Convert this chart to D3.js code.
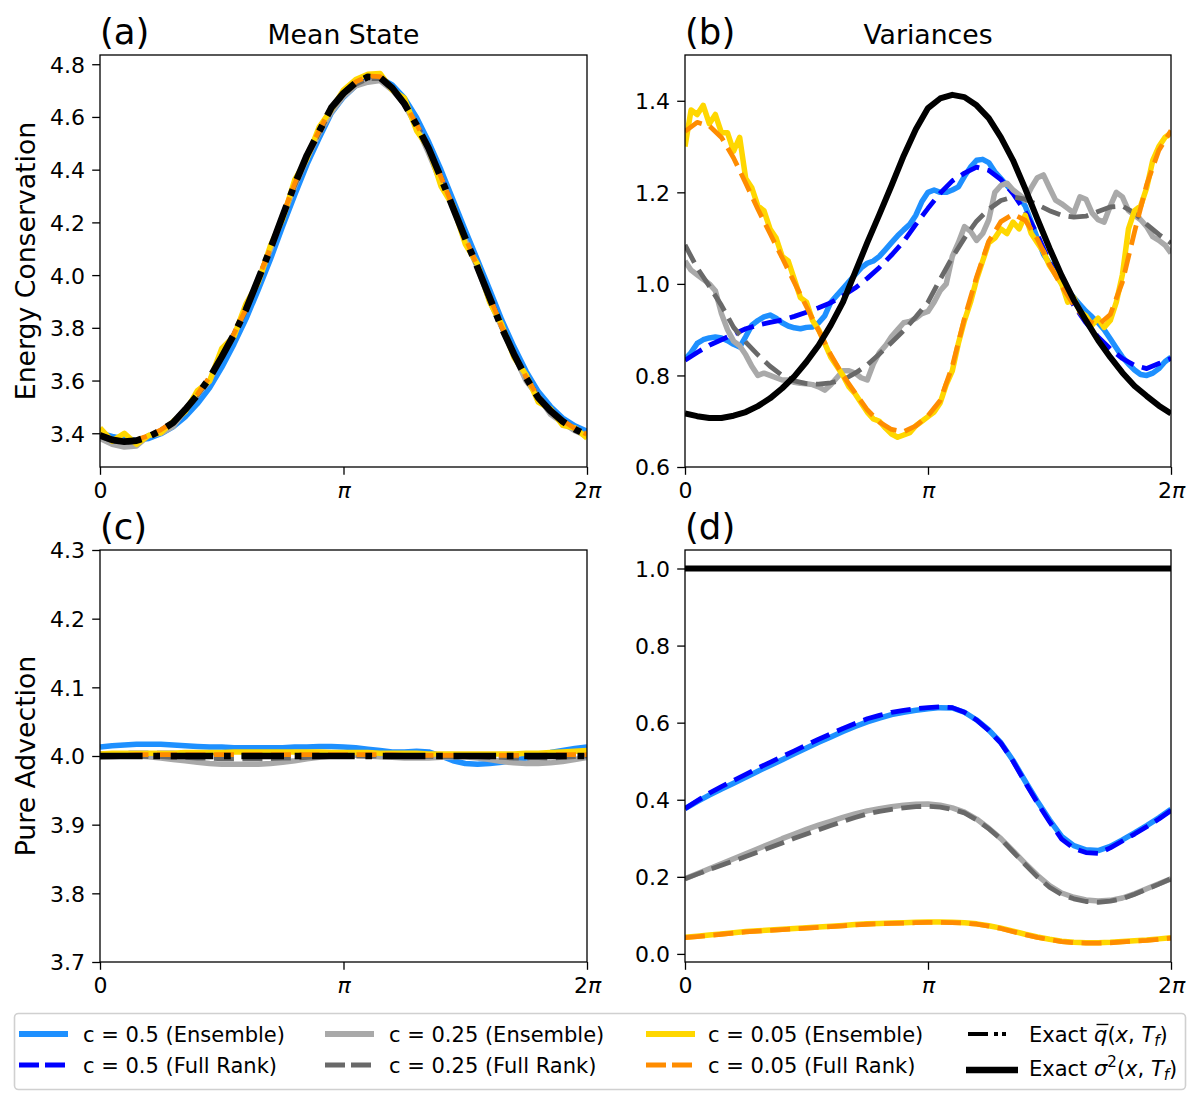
<!DOCTYPE html>
<html>
<head>
<meta charset="utf-8">
<script src="https://cdn.jsdelivr.net/npm/d3@7"></script>
<style>
  body { margin: 0; background: #fff; }
  svg { display: block; }
</style>
</head>
<body>
<svg id="fig" width="1200" height="1104"></svg>
<script>
// x grids, in units of pi
const xPi41 = [0,0.05,0.1,0.15,0.2,0.25,0.3,0.35,0.4,0.45,0.5,0.55,0.6,0.65,0.7,0.75,0.8,0.85,0.9,0.95,
  1,1.05,1.1,1.15,1.2,1.25,1.3,1.35,1.4,1.45,1.5,1.55,1.6,1.65,1.7,1.75,1.8,1.85,1.9,1.95,2];
const xPi81 = [0,0.025,0.05,0.075,0.1,0.125,0.15,0.175,0.2,0.225,0.25,0.275,0.3,0.325,0.35,0.375,0.4,0.425,0.45,0.475,
  0.5,0.525,0.55,0.575,0.6,0.625,0.65,0.675,0.7,0.725,0.75,0.775,0.8,0.825,0.85,0.875,0.9,0.925,0.95,0.975,
  1,1.025,1.05,1.075,1.1,1.125,1.15,1.175,1.2,1.225,1.25,1.275,1.3,1.325,1.35,1.375,1.4,1.425,1.45,1.475,
  1.5,1.525,1.55,1.575,1.6,1.625,1.65,1.675,1.7,1.725,1.75,1.775,1.8,1.825,1.85,1.875,1.9,1.925,1.95,1.975,2];

const xTickPi = [0, 1, 2];
const xTickLabels = ["0", "π", "2π"];
const aTicks = [3.4, 3.6, 3.8, 4.0, 4.2, 4.4, 4.6, 4.8];
const bTicks = [0.6, 0.8, 1.0, 1.2, 1.4];
const cTicks = [3.7, 3.8, 3.9, 4.0, 4.1, 4.2, 4.3];
const dTicks = [0.0, 0.2, 0.4, 0.6, 0.8, 1.0];

// (a) energy conservation, mean state
const aExactMean = [3.392,3.375,3.368,3.372,3.388,3.410,3.440,3.490,3.545,3.610,3.690,3.775,3.870,3.985,4.100,4.225,4.345,4.455,4.545,4.635,
  4.690,4.730,4.752,4.750,4.710,4.650,4.570,4.480,4.370,4.255,4.140,4.030,3.915,3.800,3.700,3.610,3.535,3.485,3.445,3.415,3.393];
const aEns05 = [3.400,3.388,3.378,3.374,3.380,3.398,3.424,3.462,3.512,3.572,3.650,3.738,3.835,3.945,4.060,4.185,4.305,4.420,4.520,4.615,
  4.675,4.718,4.742,4.748,4.722,4.672,4.598,4.505,4.400,4.285,4.170,4.058,3.945,3.830,3.728,3.635,3.558,3.502,3.458,3.428,3.408];
const aFR05 = [3.390,3.374,3.368,3.373,3.389,3.411,3.442,3.491,3.547,3.612,3.692,3.777,3.872,3.986,4.101,4.224,4.343,4.452,4.543,4.632,
  4.688,4.728,4.750,4.748,4.709,4.650,4.571,4.482,4.372,4.258,4.143,4.033,3.918,3.803,3.703,3.613,3.538,3.487,3.447,3.417,3.395];
const aEns025 = [3.380,3.358,3.348,3.352,3.392,3.400,3.425,3.488,3.548,3.598,3.698,3.768,3.878,3.978,4.098,4.218,4.338,4.442,4.538,4.618,
  4.678,4.718,4.732,4.738,4.702,4.648,4.565,4.462,4.352,4.262,4.132,4.030,3.902,3.802,3.698,3.598,3.540,3.472,3.440,3.410,3.390];
const aFR025 = [3.389,3.371,3.364,3.369,3.386,3.409,3.440,3.489,3.544,3.609,3.688,3.773,3.868,3.983,4.098,4.222,4.341,4.450,4.540,4.628,
  4.684,4.724,4.746,4.745,4.706,4.647,4.568,4.479,4.370,4.256,4.141,4.031,3.916,3.801,3.701,3.611,3.536,3.486,3.446,3.416,3.394];
const aEns005 = [3.420,3.370,3.400,3.358,3.392,3.402,3.445,3.482,3.562,3.598,3.722,3.768,3.892,3.972,4.112,4.212,4.362,4.442,4.562,4.628,
  4.702,4.742,4.762,4.765,4.702,4.672,4.548,4.482,4.338,4.262,4.118,4.042,3.898,3.812,3.688,3.622,3.518,3.492,3.430,3.420,3.382];
const aFR005 = [3.395,3.377,3.370,3.375,3.391,3.413,3.443,3.493,3.548,3.613,3.693,3.778,3.873,3.988,4.103,4.228,4.348,4.458,4.548,4.638,
  4.693,4.733,4.755,4.753,4.713,4.653,4.573,4.483,4.373,4.258,4.143,4.033,3.918,3.803,3.703,3.613,3.538,3.488,3.448,3.418,3.396];

// (b) energy conservation, variances
const bExactVar = [0.717,0.711,0.707,0.707,0.712,0.720,0.733,0.750,0.772,0.798,0.830,0.866,0.910,0.960,1.025,1.090,1.152,1.215,1.280,1.338,
  1.384,1.405,1.413,1.408,1.390,1.362,1.320,1.270,1.208,1.142,1.078,1.018,0.965,0.920,0.877,0.840,0.806,0.777,0.755,0.734,0.717];
const bEns05 = [0.835,0.850,0.870,0.878,0.882,0.884,0.882,0.876,0.868,0.862,0.885,0.910,0.920,0.928,0.932,0.925,0.915,0.908,0.904,0.902,
  0.905,0.906,0.915,0.930,0.960,0.975,0.990,1.005,1.020,1.035,1.045,1.050,1.060,1.075,1.090,1.105,1.118,1.130,1.150,1.180,
  1.200,1.205,1.200,1.200,1.205,1.212,1.235,1.255,1.270,1.272,1.265,1.245,1.230,1.215,1.200,1.190,1.170,1.135,1.100,1.065,
  1.045,1.030,1.000,0.985,0.970,0.955,0.940,0.928,0.915,0.900,0.880,0.860,0.840,0.825,0.812,0.802,0.800,0.805,0.815,0.830,0.840];
const bFR05 = [0.833,0.850,0.866,0.878,0.890,0.902,0.910,0.916,0.921,0.929,0.938,0.948,0.959,0.974,0.991,1.012,1.036,1.063,1.093,1.130,
  1.165,1.198,1.225,1.242,1.255,1.248,1.228,1.197,1.158,1.108,1.048,0.998,0.953,0.915,0.884,0.858,0.837,0.822,0.815,0.826,0.837];
const bEns025 = [1.050,1.030,1.020,1.010,1.000,0.985,0.935,0.900,0.875,0.865,0.845,0.820,0.800,0.805,0.800,0.795,0.790,0.790,0.785,0.783,
  0.782,0.780,0.775,0.768,0.780,0.795,0.810,0.810,0.805,0.795,0.790,0.825,0.850,0.865,0.885,0.900,0.915,0.918,0.925,0.935,
  0.940,0.960,0.985,1.000,1.060,1.090,1.125,1.115,1.095,1.110,1.140,1.200,1.215,1.220,1.205,1.195,1.183,1.210,1.232,1.238,
  1.210,1.183,1.175,1.165,1.155,1.190,1.185,1.155,1.140,1.135,1.170,1.200,1.190,1.160,1.150,1.140,1.125,1.103,1.095,1.085,1.067];
const bFR025 = [1.085,1.035,0.995,0.953,0.905,0.873,0.845,0.820,0.800,0.788,0.782,0.781,0.784,0.790,0.805,0.823,0.847,0.872,0.898,0.928,
  0.960,1.010,1.058,1.100,1.137,1.163,1.182,1.190,1.185,1.173,1.160,1.150,1.146,1.148,1.158,1.168,1.170,1.155,1.130,1.108,1.089];
const bEns005 = [1.300,1.380,1.370,1.390,1.350,1.370,1.330,1.330,1.290,1.320,1.230,1.210,1.170,1.160,1.120,1.100,1.060,1.050,1.010,0.970,
  0.960,0.920,0.900,0.870,0.840,0.820,0.800,0.775,0.760,0.740,0.720,0.705,0.700,0.685,0.672,0.665,0.670,0.675,0.690,0.700,
  0.710,0.720,0.740,0.780,0.810,0.870,0.920,0.960,1.010,1.050,1.090,1.100,1.120,1.110,1.135,1.120,1.150,1.110,1.090,1.070,
  1.040,1.020,1.000,0.960,0.970,0.940,0.930,0.910,0.925,0.905,0.920,0.960,1.020,1.120,1.160,1.170,1.210,1.270,1.300,1.320,1.330];
const bFR005 = [1.333,1.353,1.345,1.320,1.275,1.220,1.163,1.110,1.057,1.003,0.950,0.898,0.845,0.800,0.762,0.725,0.698,0.682,0.677,0.690,
  0.712,0.745,0.820,0.925,1.015,1.093,1.136,1.152,1.139,1.098,1.042,0.995,0.954,0.921,0.910,0.933,1.004,1.114,1.217,1.292,1.335];

// (c) pure advection, mean state
const cExactMean = [4.000,4.000,4.000,4.000,4.000,4.000,4.000,4.000,4.000,4.000,4.000,4.000,4.000,4.000,4.000,4.000,4.000,4.000,4.000,4.000,
  4.000,4.000,4.000,4.000,4.000,4.000,4.000,4.000,4.000,4.000,4.000,4.000,4.000,4.000,4.000,4.000,4.000,4.000,4.000,4.000,4.000];
const cEns05 = [4.013,4.015,4.016,4.017,4.017,4.017,4.016,4.015,4.014,4.013,4.013,4.012,4.012,4.012,4.012,4.012,4.013,4.013,4.014,4.014,
  4.013,4.012,4.010,4.008,4.006,4.006,4.007,4.006,4.000,3.993,3.989,3.988,3.989,3.991,3.994,3.997,4.001,4.005,4.008,4.011,4.013];
const cFR05 = [4.003,4.003,4.004,4.004,4.004,4.004,4.004,4.003,4.003,4.003,4.003,4.003,4.003,4.003,4.003,4.003,4.003,4.003,4.003,4.003,
  4.003,4.003,4.002,4.002,4.002,4.002,4.002,4.002,4.001,4.000,3.999,3.999,3.999,3.999,4.000,4.000,4.001,4.002,4.002,4.003,4.003];
const cEns025 = [3.998,3.999,4.000,4.000,3.999,3.997,3.995,3.993,3.991,3.989,3.988,3.988,3.988,3.988,3.989,3.991,3.993,3.996,3.998,4.000,
  4.001,4.001,4.000,3.999,3.998,3.997,3.997,3.997,3.998,3.999,3.999,3.997,3.995,3.992,3.990,3.989,3.989,3.990,3.992,3.995,3.998];
const cFR025 = [4.000,4.000,4.000,4.000,3.999,3.999,3.998,3.998,3.997,3.997,3.996,3.996,3.996,3.996,3.996,3.997,3.997,3.998,3.999,3.999,
  4.000,4.000,4.000,4.000,3.999,3.999,3.999,3.999,3.999,3.999,3.999,3.999,3.998,3.998,3.997,3.997,3.997,3.997,3.998,3.999,4.000];
const cEns005 = [4.003,4.004,4.004,4.004,4.004,4.004,4.004,4.005,4.005,4.005,4.005,4.006,4.006,4.006,4.006,4.006,4.006,4.006,4.006,4.005,
  4.005,4.005,4.005,4.004,4.004,4.004,4.004,4.003,4.003,4.003,4.003,4.003,4.003,4.003,4.003,4.004,4.004,4.005,4.006,4.007,4.008];
const cFR005 = [4.001,4.001,4.001,4.002,4.002,4.002,4.002,4.002,4.002,4.002,4.002,4.002,4.002,4.002,4.002,4.002,4.002,4.002,4.002,4.002,
  4.002,4.002,4.002,4.002,4.002,4.001,4.001,4.001,4.001,4.001,4.001,4.001,4.001,4.001,4.001,4.001,4.001,4.002,4.002,4.002,4.002];

// (d) pure advection, variances
const dExactVar = [1.0,1.0,1.0,1.0,1.0,1.0,1.0,1.0,1.0,1.0,1.0,1.0,1.0,1.0,1.0,1.0,1.0,1.0,1.0,1.0,
  1.0,1.0,1.0,1.0,1.0,1.0,1.0,1.0,1.0,1.0,1.0,1.0,1.0,1.0,1.0,1.0,1.0,1.0,1.0,1.0,1.0];
const dEns05 = [0.377,0.395,0.412,0.428,0.443,0.458,0.474,0.489,0.504,0.519,0.534,0.549,0.563,0.577,0.590,0.602,0.612,0.621,0.627,0.632,
  0.636,0.639,0.638,0.627,0.607,0.581,0.548,0.502,0.448,0.396,0.348,0.305,0.281,0.270,0.268,0.279,0.296,0.314,0.333,0.353,0.375];
const dFR05 = [0.377,0.397,0.417,0.434,0.450,0.466,0.482,0.497,0.512,0.527,0.542,0.557,0.571,0.585,0.598,0.610,0.619,0.627,0.632,0.636,
  0.639,0.641,0.639,0.627,0.607,0.580,0.547,0.500,0.445,0.392,0.343,0.298,0.274,0.263,0.261,0.275,0.293,0.311,0.330,0.350,0.372];
const dEns025 = [0.195,0.208,0.221,0.234,0.247,0.260,0.273,0.286,0.299,0.311,0.323,0.334,0.344,0.354,0.363,0.371,0.377,0.382,0.386,0.388,
  0.389,0.386,0.379,0.368,0.350,0.326,0.299,0.267,0.235,0.204,0.177,0.158,0.147,0.140,0.137,0.139,0.145,0.156,0.169,0.182,0.195];
const dFR025 = [0.195,0.207,0.219,0.230,0.241,0.253,0.264,0.276,0.288,0.300,0.311,0.322,0.333,0.344,0.354,0.363,0.370,0.375,0.379,0.382,
  0.383,0.381,0.375,0.366,0.348,0.325,0.298,0.265,0.232,0.200,0.173,0.154,0.143,0.136,0.134,0.137,0.143,0.155,0.168,0.181,0.195];
const dEns005 = [0.043,0.046,0.049,0.052,0.055,0.058,0.060,0.062,0.064,0.066,0.068,0.070,0.072,0.074,0.076,0.078,0.079,0.080,0.081,0.082,
  0.083,0.083,0.082,0.081,0.078,0.073,0.067,0.059,0.051,0.044,0.038,0.033,0.030,0.029,0.029,0.030,0.032,0.034,0.036,0.039,0.042];
const dFR005 = [0.042,0.045,0.048,0.051,0.054,0.057,0.059,0.061,0.063,0.065,0.067,0.069,0.071,0.073,0.075,0.077,0.078,0.079,0.080,0.081,
  0.082,0.082,0.081,0.080,0.077,0.072,0.066,0.058,0.050,0.043,0.037,0.032,0.029,0.028,0.028,0.029,0.031,0.033,0.035,0.038,0.041];

const legendLabels = ["c = 0.5 (Ensemble)", "c = 0.5 (Full Rank)", "c = 0.25 (Ensemble)",
  "c = 0.25 (Full Rank)", "c = 0.05 (Ensemble)", "c = 0.05 (Full Rank)"];

// ---------------------------------------------------------------
const FONT = "'DejaVu Sans', sans-serif";
const svg = d3.select("#fig").attr("font-family", FONT);

const styles = {
  ens05:  {stroke: "#1e90ff", width: 5.5},
  fr05:   {stroke: "#0000ff", width: 4.8, dash: "20,8.5"},
  ens025: {stroke: "#a9a9a9", width: 5.5},
  fr025:  {stroke: "#696969", width: 4.8, dash: "20,8.5"},
  ens005: {stroke: "#ffd700", width: 5.5},
  fr005:  {stroke: "#ff8c00", width: 4.8, dash: "20,8.5"},
  exactMean: {stroke: "#000", width: 6.7, dash: "42.6,10.7,6.7,10.7"},
  exactVar:  {stroke: "#000", width: 6}
};

const panels = [
  {id: "a", tag: "(a)", title: "Mean State", ylabel: "Energy Conservation", left: 100, top: 55, width: 487,
   yDomain: [3.272, 4.835], yTicks: aTicks,
   series: [[xPi41, aEns05, "ens05"], [xPi41, aFR05, "fr05"], [xPi41, aEns025, "ens025"], [xPi41, aFR025, "fr025"],
            [xPi41, aEns005, "ens005"], [xPi41, aFR005, "fr005"], [xPi41, aExactMean, "exactMean"]]},
  {id: "b", tag: "(b)", title: "Variances", left: 685, top: 55, width: 486,
   yDomain: [0.6, 1.5], yTicks: bTicks,
   series: [[xPi81, bEns05, "ens05"], [xPi41, bFR05, "fr05"], [xPi81, bEns025, "ens025"], [xPi41, bFR025, "fr025"],
            [xPi81, bEns005, "ens005"], [xPi41, bFR005, "fr005"], [xPi41, bExactVar, "exactVar"]]},
  {id: "c", tag: "(c)", ylabel: "Pure Advection", left: 100, top: 550, width: 487,
   yDomain: [3.7, 4.3], yTicks: cTicks,
   series: [[xPi41, cEns05, "ens05"], [xPi41, cFR05, "fr05"], [xPi41, cEns025, "ens025"], [xPi41, cFR025, "fr025"],
            [xPi41, cEns005, "ens005"], [xPi41, cFR005, "fr005"], [xPi41, cExactMean, "exactMean"]]},
  {id: "d", tag: "(d)", left: 685, top: 550, width: 486,
   yDomain: [-0.021, 1.048], yTicks: dTicks,
   series: [[xPi41, dEns05, "ens05"], [xPi41, dFR05, "fr05"], [xPi41, dEns025, "ens025"], [xPi41, dFR025, "fr025"],
            [xPi41, dEns005, "ens005"], [xPi41, dFR005, "fr005"], [xPi41, dExactVar, "exactVar"]]}
];
const plotHeight = 412;

function applyStyle(sel, st) {
  sel.attr("fill", "none")
    .attr("stroke", st.stroke)
    .attr("stroke-width", st.width)
    .attr("stroke-linejoin", "round")
    .attr("stroke-linecap", "butt");
  if (st.dash) sel.attr("stroke-dasharray", st.dash);
  return sel;
}

function piLabel(sel, label) {
  sel.text(null);
  for (const ch of label) {
    sel.append("tspan").text(ch).attr("font-style", ch === "π" ? "italic" : null);
  }
}

panels.forEach(p => {
  const g = svg.append("g");
  const x = d3.scaleLinear().domain([0, 2 * Math.PI]).range([p.left, p.left + p.width]);
  const y = d3.scaleLinear().domain(p.yDomain).range([p.top + plotHeight, p.top]);

  svg.append("clipPath").attr("id", "clip-" + p.id)
    .append("rect").attr("x", p.left).attr("y", p.top).attr("width", p.width).attr("height", plotHeight);

  const lines = g.append("g").attr("clip-path", "url(#clip-" + p.id + ")");
  const line = d3.line().x(d => x(d[0])).y(d => y(d[1]));

  p.series.forEach(([xs, vals, key]) => {
    const pts = vals.map((v, i) => [xs[i] * Math.PI, v]);
    applyStyle(lines.append("path").datum(pts).attr("d", line), styles[key]);
  });

  // y axis
  const yAxis = d3.axisLeft(y).tickValues(p.yTicks).tickFormat(d3.format(".1f"))
    .tickSize(7.8).tickPadding(7.2);
  const yg = g.append("g").attr("transform", "translate(" + p.left + ",0)").call(yAxis);
  yg.select(".domain").remove();
  yg.selectAll(".tick line").attr("stroke", "#000").attr("stroke-width", 1.3);
  yg.selectAll(".tick text").attr("fill", "#000").attr("font-size", 22).attr("dy", "0.36em");
  yg.attr("font-family", FONT);

  // x axis
  const xAxis = d3.axisBottom(x).tickValues(xTickPi.map(v => v * Math.PI))
    .tickFormat((d, i) => xTickLabels[i]).tickSize(7.8).tickPadding(7.6);
  const xg = g.append("g").attr("transform", "translate(0," + (p.top + plotHeight) + ")").call(xAxis);
  xg.select(".domain").remove();
  xg.selectAll(".tick line").attr("stroke", "#000").attr("stroke-width", 1.3);
  xg.selectAll(".tick text").attr("fill", "#000").attr("font-size", 22)
    .each(function(d, i) { piLabel(d3.select(this), xTickLabels[i]); });
  xg.attr("font-family", FONT);

  // frame
  g.append("rect").attr("x", p.left).attr("y", p.top).attr("width", p.width).attr("height", plotHeight)
    .attr("fill", "none").attr("stroke", "#000").attr("stroke-width", 1.3);

  // titles
  g.append("text").attr("x", p.left).attr("y", p.top - 11).attr("font-size", 35.5).text(p.tag);
  if (p.title) {
    g.append("text").attr("x", p.left + p.width / 2).attr("y", p.top - 11)
      .attr("text-anchor", "middle").attr("font-size", 26.7).text(p.title);
  }
  if (p.ylabel) {
    g.append("text").attr("transform", "translate(35," + (p.top + plotHeight / 2) + ") rotate(-90)")
      .attr("text-anchor", "middle").attr("font-size", 26.7).text(p.ylabel);
  }
});

// ---------------------------------------------------------------
// legend
const lg = svg.append("g");
lg.append("rect").attr("x", 14.5).attr("y", 1013.5).attr("width", 1171).attr("height", 76).attr("rx", 4)
  .attr("fill", "#fff").attr("stroke", "#d0d0d0").attr("stroke-width", 1.6);

const LFS = 21;
const handleX = [19, 325, 646, 968];
const textX = [83, 389, 708, 1029];
const handleLen = 49;
const keys = ["ens05", "fr05", "ens025", "fr025", "ens005", "fr005"];

keys.forEach((key, i) => {
  const col = Math.floor(i / 2), row = i % 2;
  const hy = row === 0 ? 1034 : 1065;
  const st = styles[key];
  const h = lg.append("line").attr("x1", handleX[col]).attr("x2", handleX[col] + handleLen)
    .attr("y1", hy).attr("y2", hy);
  applyStyle(h, {stroke: st.stroke, width: st.dash ? 4.8 : 5.8, dash: st.dash ? "20,6" : null});
  lg.append("text").attr("x", textX[col]).attr("y", row === 0 ? 1042 : 1073)
    .attr("font-size", LFS).text(legendLabels[i]);
});

// exact mean handle (dash-dot)
applyStyle(lg.append("line").attr("x1", 968).attr("x2", 1008).attr("y1", 1034).attr("y2", 1034),
  {stroke: "#000", width: 4, dash: "20,6,4,4,4,20"});
// exact variance handle
applyStyle(lg.append("line").attr("x1", 966).attr("x2", 1018).attr("y1", 1070).attr("y2", 1070),
  {stroke: "#000", width: 6.5});

function mathLabel(yBase, sym, sup) {
  const t = lg.append("text").attr("x", 1029).attr("y", yBase).attr("font-size", LFS);
  t.append("tspan").text("Exact ");
  t.append("tspan").attr("font-style", "italic").text(sym);
  if (sup) {
    t.append("tspan").attr("font-size", 15).attr("dy", -9).text(sup);
    t.append("tspan").attr("dy", 9).text("(");
  } else {
    t.append("tspan").text("(");
  }
  t.append("tspan").attr("font-style", "italic").text("x");
  t.append("tspan").text(", ");
  t.append("tspan").attr("font-style", "italic").text("T");
  t.append("tspan").attr("font-style", "italic").attr("font-size", 15).attr("dy", 4).text("f");
  t.append("tspan").attr("dy", -4).text(")");
  return t;
}
const qText = mathLabel(1042, "q", null);
mathLabel(1076, "σ", "2");

// overline on q
const qExt = qText.node().getExtentOfChar(6);
lg.append("line").attr("x1", qExt.x + 2.5).attr("x2", qExt.x + qExt.width + 1)
  .attr("y1", 1024.5).attr("y2", 1024.5).attr("stroke", "#000").attr("stroke-width", 1.4);
</script>
</body>
</html>
